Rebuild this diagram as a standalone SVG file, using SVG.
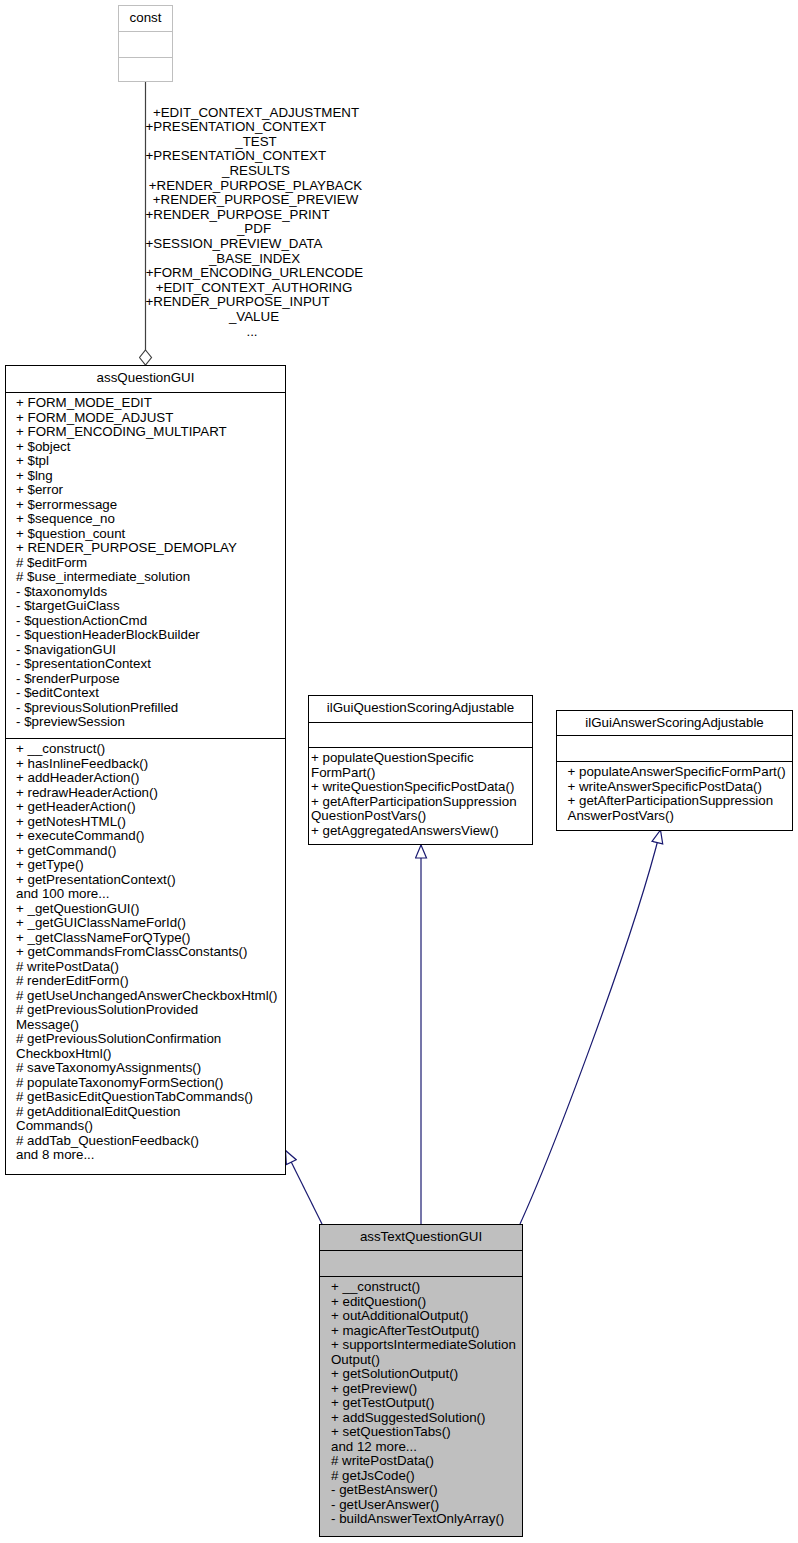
<svg xmlns="http://www.w3.org/2000/svg" width="798" height="1543" viewBox="0 0 798 1543">
<style>
text{font-family:"Liberation Sans",Arial,Helvetica,sans-serif;font-size:13.33px;fill:#000}
.c{text-anchor:middle}
.box{fill:#fff;stroke:#000;stroke-width:1}
.sel{fill:#bfbfbf;stroke:#000;stroke-width:1}
.gbox{fill:#fff;stroke:#bfbfbf;stroke-width:1}
.sep{stroke:#000;stroke-width:1}
.gsep{stroke:#bfbfbf;stroke-width:1}
.inh{fill:none;stroke:#191970;stroke-width:1.2}
.use{fill:none;stroke:#404040;stroke-width:1.2}
</style>
<defs>
<marker id="tri" markerUnits="userSpaceOnUse" markerWidth="15" markerHeight="13" viewBox="0 0 15 13" refX="14" refY="6.5" orient="auto">
<path d="M1,1 L14,6.5 L1,12 Z" fill="#fff" stroke="#191970" stroke-width="1.2"/>
</marker>
<marker id="dia" markerUnits="userSpaceOnUse" markerWidth="17" markerHeight="14" viewBox="0 0 17 14" refX="16" refY="7" orient="auto">
<path d="M1,7 L8.5,1 L16,7 L8.5,13 Z" fill="#fff" stroke="#404040" stroke-width="1.2"/>
</marker>
</defs>
<rect x="0" y="0" width="798" height="1543" fill="#fff"/>

<g id="connectors">
<path class="use" d="M145.5,81 L145.5,365" marker-end="url(#dia)"/>
<path class="inh" d="M322,1224 L285.5,1150.5" marker-end="url(#tri)"/>
<path class="inh" d="M421,1224 L421,845" marker-end="url(#tri)"/>
<path class="inh" d="M520,1224 C550,1158 632,945 660.5,830" marker-end="url(#tri)"/>
<g id="const-labels">
<text class="c" x="256" y="116.5">+EDIT_CONTEXT_ADJUSTMENT</text>
<text x="145.5" y="131.1">+PRESENTATION_CONTEXT</text>
<text class="c" x="256" y="145.7">_TEST</text>
<text x="145.5" y="160.3">+PRESENTATION_CONTEXT</text>
<text class="c" x="256" y="174.9">_RESULTS</text>
<text class="c" x="255.5" y="189.5">+RENDER_PURPOSE_PLAYBACK</text>
<text class="c" x="255.5" y="204.1">+RENDER_PURPOSE_PREVIEW</text>
<text x="145.5" y="218.7">+RENDER_PURPOSE_PRINT</text>
<text class="c" x="254" y="233.3">_PDF</text>
<text x="145.5" y="247.9">+SESSION_PREVIEW_DATA</text>
<text class="c" x="254.5" y="262.5">_BASE_INDEX</text>
<text class="c" x="254.5" y="277.1">+FORM_ENCODING_URLENCODE</text>
<text class="c" x="254" y="291.7">+EDIT_CONTEXT_AUTHORING</text>
<text x="145.5" y="306.3">+RENDER_PURPOSE_INPUT</text>
<text class="c" x="254" y="320.9">_VALUE</text>
<text class="c" x="252" y="335.5">...</text>
</g>
</g>

<g id="const">
<rect class="gbox" x="118.5" y="5.5" width="54" height="76"/>
<line class="gsep" x1="118.5" y1="31.5" x2="172.5" y2="31.5"/>
<line class="gsep" x1="118.5" y1="57.5" x2="172.5" y2="57.5"/>
<text class="c" x="145.5" y="21.5">const</text>
</g>

<g id="assQuestionGUI">
<rect class="box" x="5.5" y="365.5" width="280" height="809"/>
<line class="sep" x1="5.5" y1="392.5" x2="285.5" y2="392.5"/>
<line class="sep" x1="5.5" y1="738.5" x2="285.5" y2="738.5"/>
<text class="c" x="145.5" y="382">assQuestionGUI</text>
<text x="16" y="407">+ FORM_MODE_EDIT</text>
<text x="16" y="421.5">+ FORM_MODE_ADJUST</text>
<text x="16" y="436">+ FORM_ENCODING_MULTIPART</text>
<text x="16" y="450.5">+ $object</text>
<text x="16" y="465">+ $tpl</text>
<text x="16" y="479.5">+ $lng</text>
<text x="16" y="494">+ $error</text>
<text x="16" y="508.5">+ $errormessage</text>
<text x="16" y="523">+ $sequence_no</text>
<text x="16" y="537.5">+ $question_count</text>
<text x="16" y="552">+ RENDER_PURPOSE_DEMOPLAY</text>
<text x="16" y="566.5"># $editForm</text>
<text x="16" y="581"># $use_intermediate_solution</text>
<text x="16" y="595.5">- $taxonomyIds</text>
<text x="16" y="610">- $targetGuiClass</text>
<text x="16" y="624.5">- $questionActionCmd</text>
<text x="16" y="639">- $questionHeaderBlockBuilder</text>
<text x="16" y="653.5">- $navigationGUI</text>
<text x="16" y="668">- $presentationContext</text>
<text x="16" y="682.5">- $renderPurpose</text>
<text x="16" y="697">- $editContext</text>
<text x="16" y="711.5">- $previousSolutionPrefilled</text>
<text x="16" y="726">- $previewSession</text>
<text x="16" y="753">+ __construct()</text>
<text x="16" y="767.5">+ hasInlineFeedback()</text>
<text x="16" y="782">+ addHeaderAction()</text>
<text x="16" y="796.5">+ redrawHeaderAction()</text>
<text x="16" y="811">+ getHeaderAction()</text>
<text x="16" y="825.5">+ getNotesHTML()</text>
<text x="16" y="840">+ executeCommand()</text>
<text x="16" y="854.5">+ getCommand()</text>
<text x="16" y="869">+ getType()</text>
<text x="16" y="883.5">+ getPresentationContext()</text>
<text x="16" y="898">and 100 more...</text>
<text x="16" y="912.5">+ _getQuestionGUI()</text>
<text x="16" y="927">+ _getGUIClassNameForId()</text>
<text x="16" y="941.5">+ _getClassNameForQType()</text>
<text x="16" y="956">+ getCommandsFromClassConstants()</text>
<text x="16" y="970.5"># writePostData()</text>
<text x="16" y="985"># renderEditForm()</text>
<text x="16" y="999.5"># getUseUnchangedAnswerCheckboxHtml()</text>
<text x="16" y="1014"># getPreviousSolutionProvided</text>
<text x="16" y="1028.5">Message()</text>
<text x="16" y="1043"># getPreviousSolutionConfirmation</text>
<text x="16" y="1057.5">CheckboxHtml()</text>
<text x="16" y="1072"># saveTaxonomyAssignments()</text>
<text x="16" y="1086.5"># populateTaxonomyFormSection()</text>
<text x="16" y="1101"># getBasicEditQuestionTabCommands()</text>
<text x="16" y="1115.5"># getAdditionalEditQuestion</text>
<text x="16" y="1130">Commands()</text>
<text x="16" y="1144.5"># addTab_QuestionFeedback()</text>
<text x="16" y="1159">and 8 more...</text>
</g>

<g id="ilGuiQuestionScoringAdjustable">
<rect class="box" x="308.5" y="695.5" width="224" height="149"/>
<line class="sep" x1="308.5" y1="722.5" x2="532.5" y2="722.5"/>
<line class="sep" x1="308.5" y1="747.5" x2="532.5" y2="747.5"/>
<text class="c" x="420.5" y="712">ilGuiQuestionScoringAdjustable</text>
<text x="311" y="762">+ populateQuestionSpecific</text>
<text x="311" y="776.5">FormPart()</text>
<text x="311" y="791">+ writeQuestionSpecificPostData()</text>
<text x="311" y="805.5">+ getAfterParticipationSuppression</text>
<text x="311" y="820">QuestionPostVars()</text>
<text x="311" y="834.5">+ getAggregatedAnswersView()</text>
</g>

<g id="ilGuiAnswerScoringAdjustable">
<rect class="box" x="556.5" y="710.5" width="236" height="120"/>
<line class="sep" x1="556.5" y1="735.5" x2="792.5" y2="735.5"/>
<line class="sep" x1="556.5" y1="761.5" x2="792.5" y2="761.5"/>
<text class="c" x="674.5" y="727">ilGuiAnswerScoringAdjustable</text>
<text x="567.5" y="776">+ populateAnswerSpecificFormPart()</text>
<text x="567.5" y="790.5">+ writeAnswerSpecificPostData()</text>
<text x="567.5" y="805">+ getAfterParticipationSuppression</text>
<text x="567.5" y="819.5">AnswerPostVars()</text>
</g>

<g id="assTextQuestionGUI">
<rect class="sel" x="319.5" y="1224.5" width="203" height="312"/>
<line class="sep" x1="319.5" y1="1250.5" x2="522.5" y2="1250.5"/>
<line class="sep" x1="319.5" y1="1276.5" x2="522.5" y2="1276.5"/>
<text class="c" x="421" y="1241">assTextQuestionGUI</text>
<text x="331" y="1291">+ __construct()</text>
<text x="331" y="1305.5">+ editQuestion()</text>
<text x="331" y="1320">+ outAdditionalOutput()</text>
<text x="331" y="1334.5">+ magicAfterTestOutput()</text>
<text x="331" y="1349">+ supportsIntermediateSolution</text>
<text x="331" y="1363.5">Output()</text>
<text x="331" y="1378">+ getSolutionOutput()</text>
<text x="331" y="1392.5">+ getPreview()</text>
<text x="331" y="1407">+ getTestOutput()</text>
<text x="331" y="1421.5">+ addSuggestedSolution()</text>
<text x="331" y="1436">+ setQuestionTabs()</text>
<text x="331" y="1450.5">and 12 more...</text>
<text x="331" y="1465"># writePostData()</text>
<text x="331" y="1479.5"># getJsCode()</text>
<text x="331" y="1494">- getBestAnswer()</text>
<text x="331" y="1508.5">- getUserAnswer()</text>
<text x="331" y="1523">- buildAnswerTextOnlyArray()</text>
</g>
</svg>
